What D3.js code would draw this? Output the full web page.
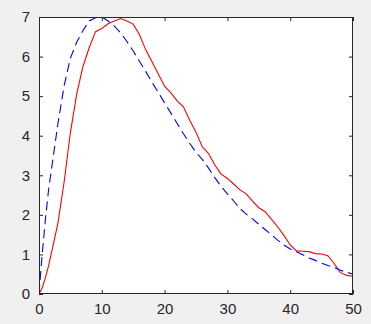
<!DOCTYPE html>
<html lang="en">
<head>
<meta charset="utf-8">
<title>two curves</title>
<script src="https://d3js.org/d3.v7.min.js"></script>
<style>
  body{margin:0;background:#f0f0f0;font-family:"Liberation Sans",Arial,sans-serif;}
  #chart{width:371px;height:324px;}
</style>
</head>
<body>
<div id="chart"></div>
<script>
// values
var xRed = [0,0.5,1,1.5,2,3,4,5,6,7,8,9,10,11,12,13,14,15,16,17,18,19,20,21,22,23,24,25,26,27,28,29,30,31,32,33,34,35,36,37,38,39,40,41,42,43,44,45,46,47,48,49,50]
var yRed = [0,0.15,0.4,0.7,1.05,1.78,2.83,4.08,5.05,5.75,6.23,6.63,6.71,6.83,6.9,6.96,6.9,6.82,6.55,6.17,5.87,5.56,5.25,5.08,4.88,4.73,4.39,4.09,3.72,3.55,3.26,3.03,2.92,2.78,2.63,2.53,2.35,2.18,2.08,1.89,1.7,1.48,1.24,1.09,1.08,1.07,1.02,1.01,0.97,0.77,0.54,0.47,0.45]

var xBlue = [0,0.5,1,1.5,2,3,4,5,6,7,8,9,10,11,12,13,14,15,16,17,18,19,20,21,22,23,24,25,26,27,28,29,30,31,32,33,34,35,36,37,38,39,40,41,42,43,44,45,46,47,48,49,50]
var yBlue = [0,1.0,1.85,2.6,3.17,4.29,5.26,5.96,6.36,6.66,6.9,6.98,7.0,6.9,6.77,6.6,6.38,6.14,5.88,5.62,5.35,5.09,4.83,4.57,4.31,4.05,3.81,3.58,3.4,3.18,2.94,2.72,2.53,2.35,2.16,2.02,1.9,1.76,1.63,1.5,1.36,1.24,1.14,1.07,0.99,0.91,0.85,0.78,0.72,0.67,0.6,0.55,0.5]

var xTicks = [0,10,20,30,40,50]
var yTicks = [0,1,2,3,4,5,6,7]

var W = 371, H = 324
var pL = 39, pR = 353, pT = 17, pB = 294

var x = d3.scaleLinear().domain([0,50]).range([pL,pR])
var y = d3.scaleLinear().domain([0,7]).range([pB,pT])

var svg = d3.select("#chart").append("svg")
  .attr("width",W).attr("height",H)

svg.append("rect")
  .attr("x",pL).attr("y",pT)
  .attr("width",pR-pL).attr("height",pB-pT)
  .attr("fill","#fff")

var clip = svg.append("clipPath").attr("id","clip")
clip.append("rect").attr("x",pL).attr("y",pT-1).attr("width",pR-pL).attr("height",pB-pT+1)

var line = d3.line()
  .x(function(d){ return x(d[0]) })
  .y(function(d){ return y(d[1]) })

var g = svg.append("g").attr("clip-path","url(#clip)")

g.append("path")
  .datum(xRed.map(function(v,i){ return [v,yRed[i]] }))
  .attr("d",line)
  .attr("fill","none")
  .attr("stroke","#ff0000")
  .attr("stroke-width",1.1)

g.append("path")
  .datum(xBlue.map(function(v,i){ return [v,yBlue[i]] }))
  .attr("d",line)
  .attr("fill","none")
  .attr("stroke","#0000ff")
  .attr("stroke-width",1.1)
  .attr("stroke-dasharray","9,5")

// axes, ticks inward, box on
var tl = 4
var axCol = "#262626"
var bx = d3.axisBottom(x).tickValues(xTicks).tickSize(-tl).tickPadding(9).tickFormat(d3.format("d"))
var ly = d3.axisLeft(y).tickValues(yTicks).tickSize(-tl).tickPadding(9).tickFormat(d3.format("d"))
var tx = d3.axisTop(x).tickValues(xTicks).tickSize(-tl).tickFormat("")
var ry = d3.axisRight(y).tickValues(yTicks).tickSize(-tl).tickFormat("")

function style(sel){
  sel.selectAll("path").attr("stroke",axCol)
  sel.selectAll("line").attr("stroke",axCol)
  sel.selectAll("text").attr("fill",axCol).style("font-size","15px")
    .style("font-family","'Liberation Sans',Arial,sans-serif")
}

svg.append("g").attr("transform","translate(0,"+pB+")").call(bx).call(style)
svg.append("g").attr("transform","translate("+pL+",0)").call(ly).call(style)
svg.append("g").attr("transform","translate(0,"+pT+")").call(tx).call(style)
svg.append("g").attr("transform","translate("+pR+",0)").call(ry).call(style)
svg.selectAll(".domain").remove()
svg.append("rect")
  .attr("x",pL+0.5).attr("y",pT+0.5)
  .attr("width",pR-pL-1).attr("height",pB-pT-1)
  .attr("fill","none").attr("stroke",axCol)
</script>
</body>
</html>
